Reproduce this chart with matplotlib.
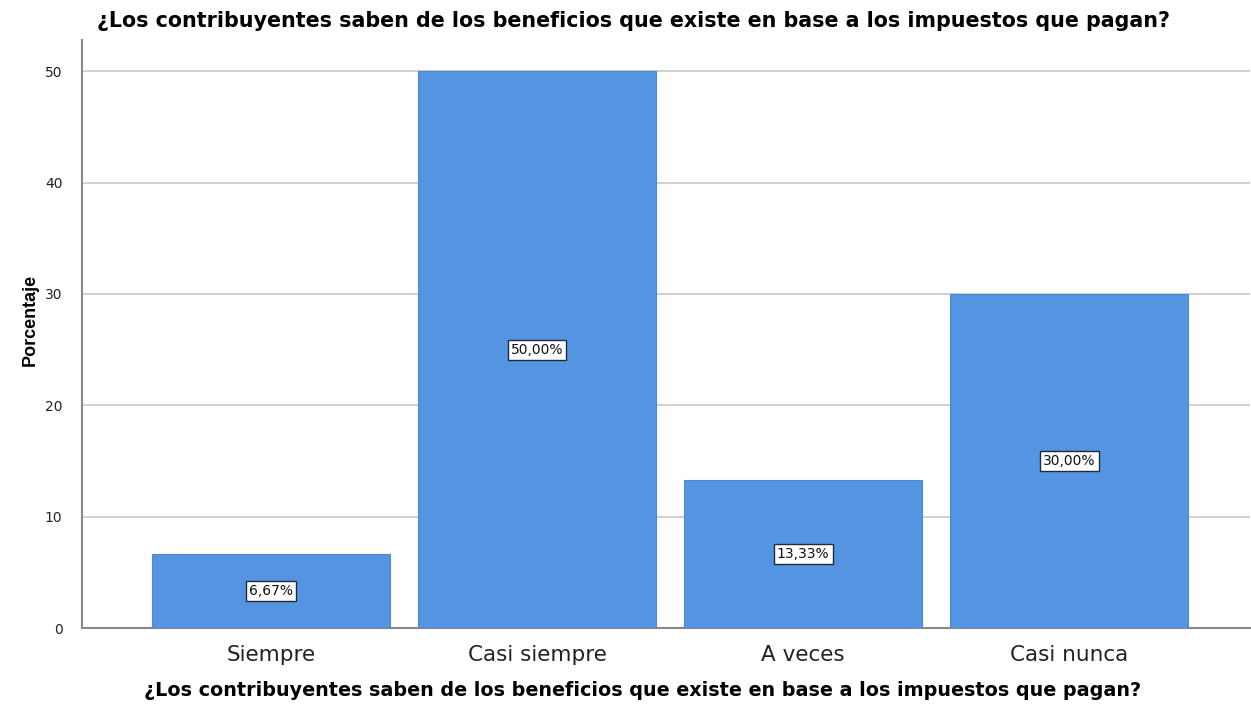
import matplotlib.pyplot as plt
import numpy as np

plt.rcParams['font.family'] = ['DejaVu Sans']

categorias = ['Siempre', 'Casi siempre', 'A veces', 'Casi nunca']
porcentajes = [6.67, 50.00, 13.33, 30.00]
etiquetas = ['6,67%', '50,00%', '13,33%', '30,00%']
pregunta = '¿Los contribuyentes saben de los beneficios que existe en base a los impuestos que pagan?'

fig = plt.figure(figsize=(12.51, 7.13), dpi=100)
ax = fig.add_axes([0.0655, 0.119, 0.934, 0.825])

x = np.arange(len(categorias))
barras = ax.bar(x, porcentajes, width=0.895, color='#5594e0',
                edgecolor='#4f88d2', linewidth=0.8, zorder=3)

# etiqueta con el porcentaje a media altura de cada barra
for xi, v, et in zip(x, porcentajes, etiquetas):
    ax.text(xi, v / 2, et, ha='center', va='center', fontsize=10,
            color='#111111', zorder=4,
            bbox=dict(boxstyle='square,pad=0.22', fc='white', ec='#1d2b3a', lw=1))

ax.set_xlim(-0.71, 3.68)
ax.set_ylim(0, 52.8)
ax.set_yticks([0, 10, 20, 30, 40, 50])
ax.set_xticks(x)
ax.set_xticklabels(categorias, fontsize=15.5, color='#222222')
ax.tick_params(axis='y', labelsize=10, length=0, pad=14, colors='#222222')
ax.tick_params(axis='x', length=0, pad=12)

ax.grid(axis='y', color='#c8c8c8', linewidth=1.2, zorder=0)
for lado in ['top', 'right']:
    ax.spines[lado].set_visible(False)
for lado in ['left', 'bottom']:
    ax.spines[lado].set_color('#888888')
    ax.spines[lado].set_linewidth(1.5)

ax.set_ylabel('Porcentaje', fontsize=13, fontweight='bold',
              family='Liberation Sans')
ax.yaxis.set_label_coords(-0.037, 0.524)

fig.text(0.506, 0.970, pregunta, ha='center', va='center',
         fontsize=14.9, fontweight='bold')
fig.text(0.5135, 0.032, pregunta, ha='center', va='center',
         fontsize=13.8, fontweight='bold')

fig.savefig('out.png', dpi=100)
